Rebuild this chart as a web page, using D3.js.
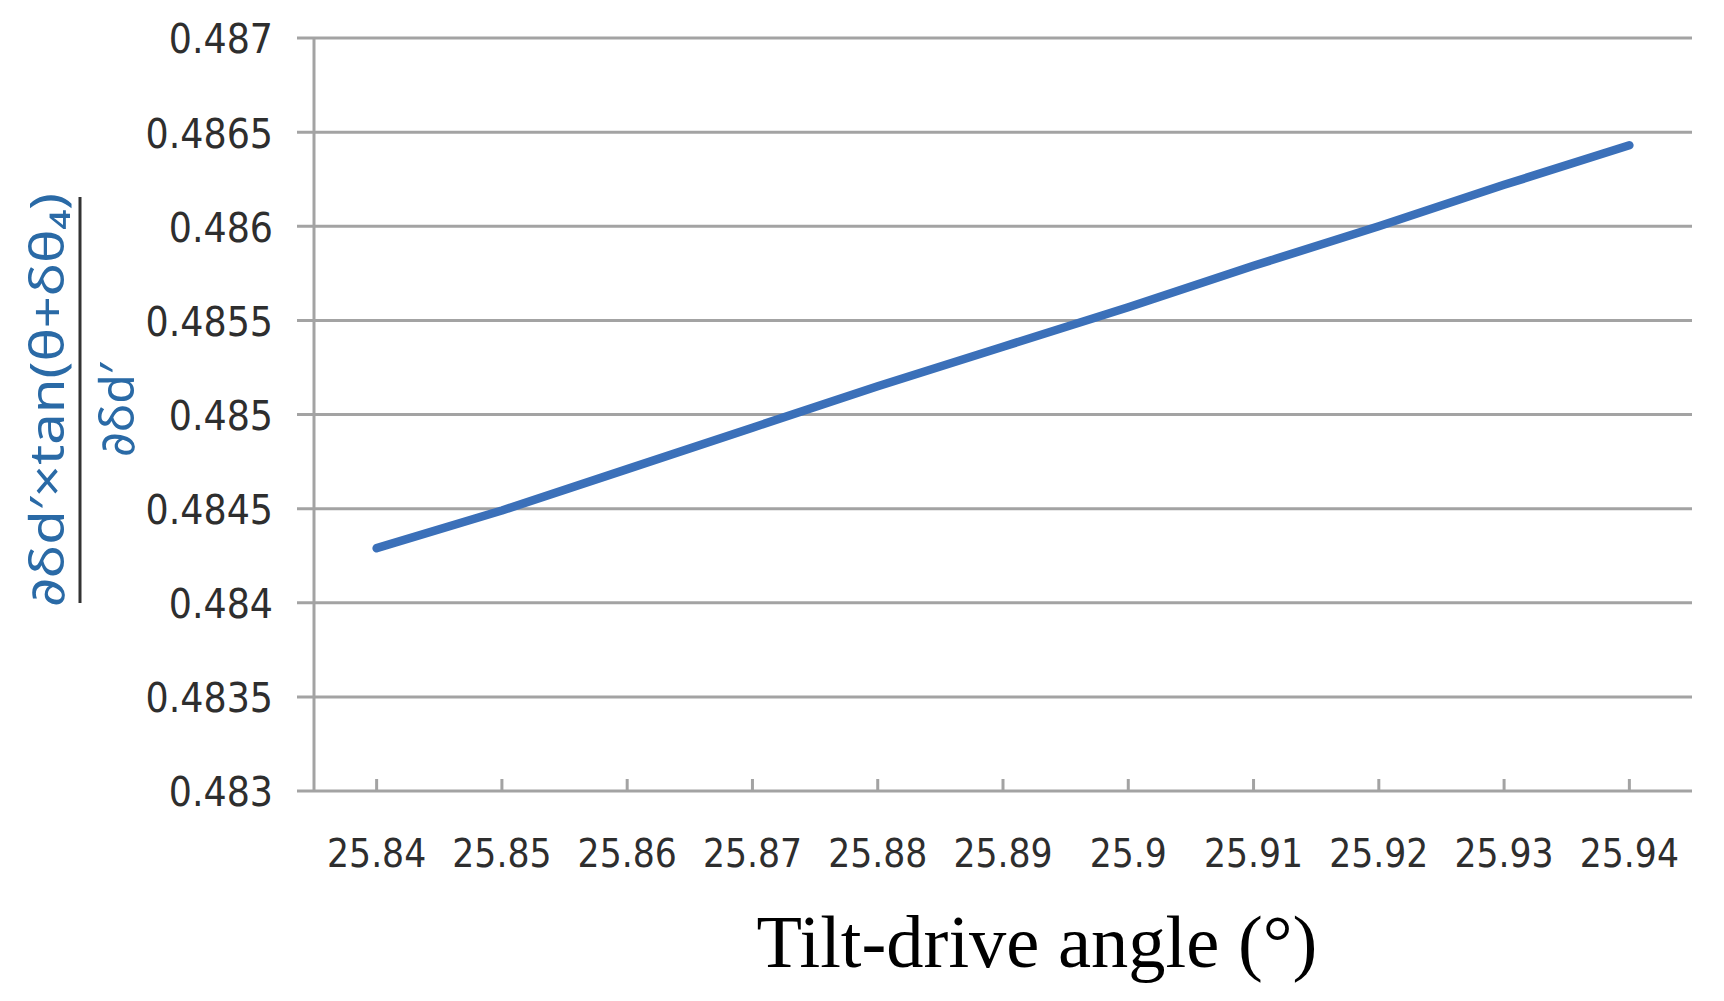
<!DOCTYPE html>
<html>
<head>
<meta charset="utf-8">
<script src="https://cdn.jsdelivr.net/npm/d3@7"></script>
<style>
html,body{margin:0;padding:0;background:#fff;}
svg{display:block;}
</style>
</head>
<body>
<svg id="chart" width="1724" height="1001"></svg>
<script>
const categories = ["25.84","25.85","25.86","25.87","25.88","25.89","25.9","25.91","25.92","25.93","25.94"];
const values = [0.48429,0.48449,0.48471,0.48493,0.48515,0.48536,0.48557,0.48579,0.48600,0.48622,0.48643];
const yTickValues = [0.483,0.4835,0.484,0.4845,0.485,0.4855,0.486,0.4865,0.487];
const yTickLabels = ["0.483","0.4835","0.484","0.4845","0.485","0.4855","0.486","0.4865","0.487"];
const xTitle = "Tilt-drive angle (°)";
const yNumerator = "∂δd′×tan(θ+δθ₄)";
const yDenominator = "∂δd′";

(function () {
const svg = d3.select("#chart");
const plotL = 314, plotR = 1692, plotT = 38, plotB = 791;
const gridColor = "#a3a3a3";
const tickFont = "'DejaVu Sans Condensed','DejaVu Sans',sans-serif";

const x = d3.scalePoint().domain(categories).range([plotL, plotR]).padding(0.5);
const y = d3.scaleLinear().domain([0.483, 0.487]).range([plotB, plotT]);

// horizontal gridlines (extend left as tick marks)
svg.append("g").selectAll("line").data(yTickValues).join("line")
  .attr("x1", plotL - 17).attr("x2", plotR)
  .attr("y1", d => y(d)).attr("y2", d => y(d))
  .attr("stroke", gridColor).attr("stroke-width", 3);

// y axis line
svg.append("line").attr("x1", plotL).attr("x2", plotL).attr("y1", plotT).attr("y2", plotB)
  .attr("stroke", gridColor).attr("stroke-width", 3);

// x tick marks (inward)
svg.append("g").selectAll("line").data(categories).join("line")
  .attr("x1", d => x(d)).attr("x2", d => x(d))
  .attr("y1", plotB).attr("y2", plotB - 12)
  .attr("stroke", gridColor).attr("stroke-width", 3);

// y tick labels
svg.append("g").selectAll("text").data(yTickValues).join("text")
  .attr("x", 273).attr("y", d => y(d)).attr("dy", "0.38em")
  .attr("text-anchor", "end")
  .attr("font-family", tickFont).attr("font-size", 40.5).attr("fill", "#2e2e2e")
  .text((d, i) => yTickLabels[i]);

// x tick labels
svg.append("g").selectAll("text").data(categories).join("text")
  .attr("x", d => x(d)).attr("y", 867)
  .attr("text-anchor", "middle")
  .attr("font-family", tickFont).attr("font-size", 38.5).attr("fill", "#2e2e2e")
  .text(d => d);

// line
const line = d3.line().x((d, i) => x(categories[i])).y(d => y(d));
svg.append("path").datum(values)
  .attr("d", line).attr("fill", "none")
  .attr("stroke", "#3b70b9").attr("stroke-width", 8.5)
  .attr("stroke-linecap", "round").attr("stroke-linejoin", "round");

// x axis title
svg.append("text").attr("x", 1037).attr("y", 967)
  .attr("text-anchor", "middle")
  .attr("font-family", "'Liberation Serif','Times New Roman',serif")
  .attr("font-size", 74.5).attr("fill", "#000")
  .text(xTitle);

// y axis title as fraction (rotated)
const yl = svg.append("g").attr("transform", "translate(80,400) rotate(-90)");
yl.append("text").attr("x", 0).attr("y", -16)
  .attr("text-anchor", "middle")
  .attr("font-family", "'Noto Sans','DejaVu Sans',sans-serif")
  .attr("font-size", 48).attr("fill", "#2a6aa6")
  .attr("textLength", 414).attr("lengthAdjust", "spacingAndGlyphs")
  .text(yNumerator);
yl.append("line").attr("x1", -203).attr("x2", 203).attr("y1", 0).attr("y2", 0)
  .attr("stroke", "#333").attr("stroke-width", 3);
yl.append("text").attr("x", -10).attr("y", 54)
  .attr("text-anchor", "middle")
  .attr("font-family", "'Noto Sans','DejaVu Sans',sans-serif")
  .attr("font-size", 48).attr("fill", "#2a6aa6")
  .attr("textLength", 94).attr("lengthAdjust", "spacingAndGlyphs")
  .text(yDenominator);
})();
</script>
</body>
</html>
